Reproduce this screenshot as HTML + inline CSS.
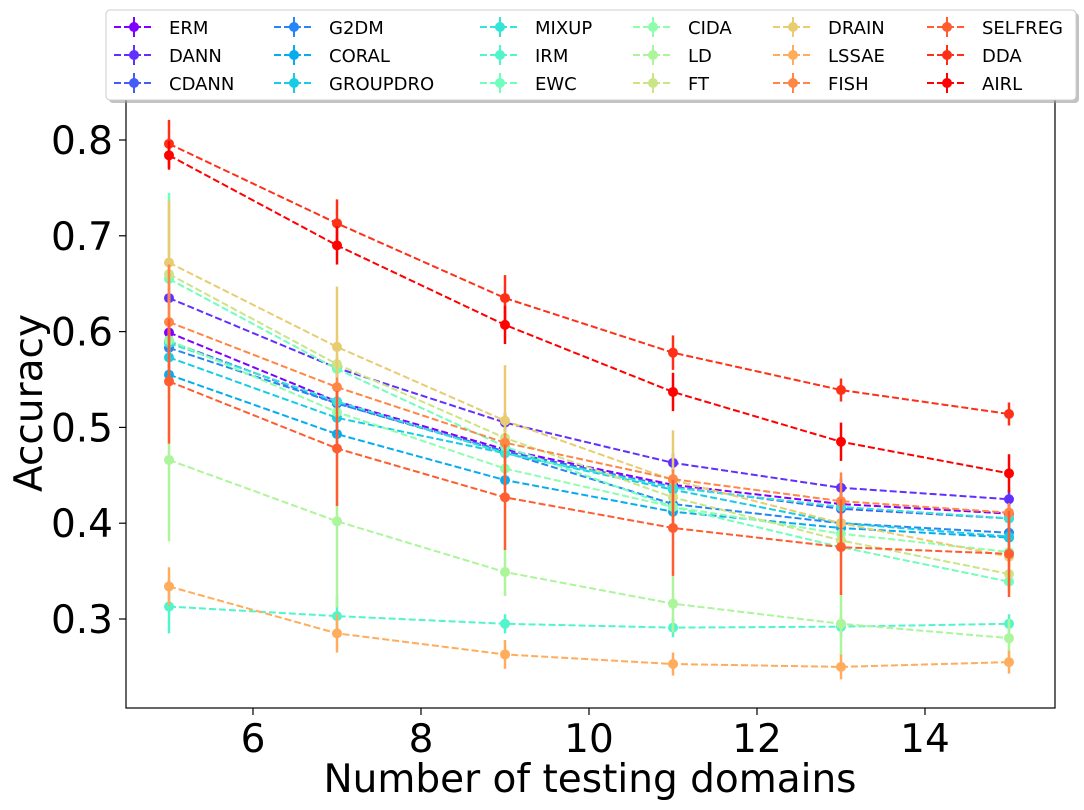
<!DOCTYPE html>
<html><head><meta charset="utf-8">
<style>
body{margin:0;background:#fff;}
svg{display:block;font-family:"DejaVu Sans","Liberation Sans",sans-serif;}
</style></head>
<body>
<svg id="chart" width="1084" height="810" viewBox="0 0 1084 810">
<g id="plot"></g>
<rect x="126" y="90" width="929" height="618" fill="none" stroke="#000" stroke-width="1.2"/>
<g id="ticks"></g>
<text x="590" y="792" font-size="39" text-anchor="middle">Number of testing domains</text>
<text transform="translate(42,403) rotate(-90)" font-size="39" text-anchor="middle">Accuracy</text>
<g id="legend">
<rect x="109" y="13" width="970" height="90" rx="4" fill="#999" opacity="0.6"/>
<rect x="106" y="10" width="970" height="90" rx="4" fill="#fff" stroke="#ccc" stroke-width="1"/>
</g>
</svg>
<script>
const xs = [5, 7, 9, 11, 13, 15];
const names = ["ERM","DANN","CDANN","G2DM","CORAL","GROUPDRO","MIXUP","IRM","EWC","CIDA","LD","FT","DRAIN","LSSAE","FISH","SELFREG","DDA","AIRL"];
const colors = ["#8000ff","#6130fe","#445cfa","#2586f5","#07acee","#17cce4","#35e4d9","#52f5cb","#70febc","#8efeac","#acf59a","#cae486","#e8cc72","#ffac5c","#ff8646","#ff5c2f","#ff3018","#ff0000"];
const ERM = [0.599,0.527,0.477,0.440,0.420,0.410];
const DANN = [0.635,0.562,0.505,0.463,0.437,0.425];
const CDANN = [0.590,0.525,0.475,0.438,0.415,0.405];
const G2DM = [0.583,0.525,0.474,0.420,0.400,0.390];
const CORAL = [0.555,0.493,0.445,0.412,0.395,0.385];
const GROUPDRO = [0.573,0.510,0.473,0.435,0.400,0.386];
const MIXUP = [0.588,0.527,0.473,0.437,0.417,0.405];
const IRM = [0.313,0.303,0.295,0.291,0.292,0.295];
const EWC = [0.655,0.561,0.480,0.417,0.375,0.339];
const CIDA = [0.591,0.516,0.457,0.417,0.389,0.370];
const LD = [0.466,0.402,0.349,0.316,0.295,0.280];
const FT = [0.660,0.566,0.489,0.427,0.382,0.347];
const DRAIN = [0.672,0.584,0.507,0.445,0.400,0.365];
const LSSAE = [0.334,0.285,0.263,0.253,0.250,0.255];
const FISH = [0.610,0.542,0.484,0.446,0.423,0.411];
const SELFREG = [0.548,0.478,0.427,0.395,0.375,0.368];
const DDA = [0.796,0.713,0.635,0.578,0.539,0.514];
const AIRL = [0.784,0.690,0.607,0.537,0.485,0.452];
const errs = [
 [.01,.01,.01,.01,.01,.01],[.01,.01,.01,.01,.01,.01],[.01,.01,.01,.01,.01,.01],
 [.01,.01,.01,.01,.01,.01],[.01,.01,.01,.01,.01,.01],[.01,.01,.01,.01,.01,.01],
 [.01,.01,.01,.01,.01,.01],[.028,.02,.01,.01,.01,.01],[.09,.01,.01,.01,.01,.01],
 [.01,.01,.01,.01,.01,.01],[.085,.09,.025,.03,.035,.02],[.01,.01,.01,.01,.01,.01],
 [.065,.063,.058,.052,.01,.01],[.02,.02,.015,.012,.013,.012],[.06,.01,.01,.01,.03,.01],
 [.065,.06,.055,.05,.05,.045],[.025,.025,.024,.018,.012,.012],[.015,.02,.02,.02,.02,.02]];
const series = [ERM,DANN,CDANN,G2DM,CORAL,GROUPDRO,MIXUP,IRM,EWC,CIDA,LD,FT,DRAIN,LSSAE,FISH,SELFREG,DDA,AIRL];
const xTicks = [6, 8, 10, 12, 14];
const yTicks = [0.3, 0.4, 0.5, 0.6, 0.7, 0.8];
const yTickLabels = ["0.3","0.4","0.5","0.6","0.7","0.8"];

const NS = "http://www.w3.org/2000/svg";
function X(v){ return 169 + (v - 5) * 84; }
function Y(v){ return 619 - (v - 0.3) * 958; }
function mk(tag, attrs, parent){
  const e = document.createElementNS(NS, tag);
  for (const k in attrs) e.setAttribute(k, attrs[k]);
  parent.appendChild(e); return e;
}
const plot = document.getElementById('plot');
series.forEach((s, i) => {
  const g = mk('g', {}, plot);
  
  
  s.forEach((v, j) => {
    const eb = mk('line', {x1:X(xs[j]), x2:X(xs[j]), y1:Y(v+errs[i][j]), y2:Y(v-errs[i][j]), stroke:colors[i], 'stroke-width':2.5}, g);
    
    
  });
  const pl = mk('polyline', {points: s.map((v,j)=>X(xs[j])+','+Y(v)).join(' '), fill:'none', stroke:colors[i], 'stroke-width':2, 'stroke-dasharray':'7,3'}, g);
  
  
  s.forEach((v, j) => {
    const c = mk('circle', {cx:X(xs[j]), cy:Y(v), r:5, fill:colors[i]}, g);
    
    
  });
});
const ticks = document.getElementById('ticks');
xTicks.forEach(t => {
  mk('line', {x1:X(t), x2:X(t), y1:708, y2:715, stroke:'#000', 'stroke-width':1.2}, ticks);
  const tx = mk('text', {x:X(t), y:752, 'font-size':39, 'text-anchor':'middle'}, ticks);
  tx.textContent = t;
  
  
});
yTicks.forEach((t, i) => {
  mk('line', {x1:119, x2:126, y1:Y(t), y2:Y(t), stroke:'#000', 'stroke-width':1.2}, ticks);
  const tx = mk('text', {x:113, y:Y(t)+14, 'font-size':39, 'text-anchor':'end'}, ticks);
  tx.textContent = yTickLabels[i];
  
  
});
const legend = document.getElementById('legend');
const colX = [114, 274, 480, 633, 773, 927];
names.forEach((n, i) => {
  const col = Math.floor(i / 3), row = i % 3;
  const x0 = colX[col], y0 = 27 + row * 28;
  const g = mk('g', {}, legend);
  
  
  mk('line', {x1:x0, x2:x0+40, y1:y0, y2:y0, stroke:colors[i], 'stroke-width':2, 'stroke-dasharray':'7,3'}, g);
  mk('line', {x1:x0+20, x2:x0+20, y1:y0-10, y2:y0+10, stroke:colors[i], 'stroke-width':2}, g);
  mk('circle', {cx:x0+20, cy:y0, r:5, fill:colors[i]}, g);
  const t = mk('text', {x:x0+55, y:y0+7, 'font-size':18}, g);
  t.textContent = n;
});
</script>
</body></html>
